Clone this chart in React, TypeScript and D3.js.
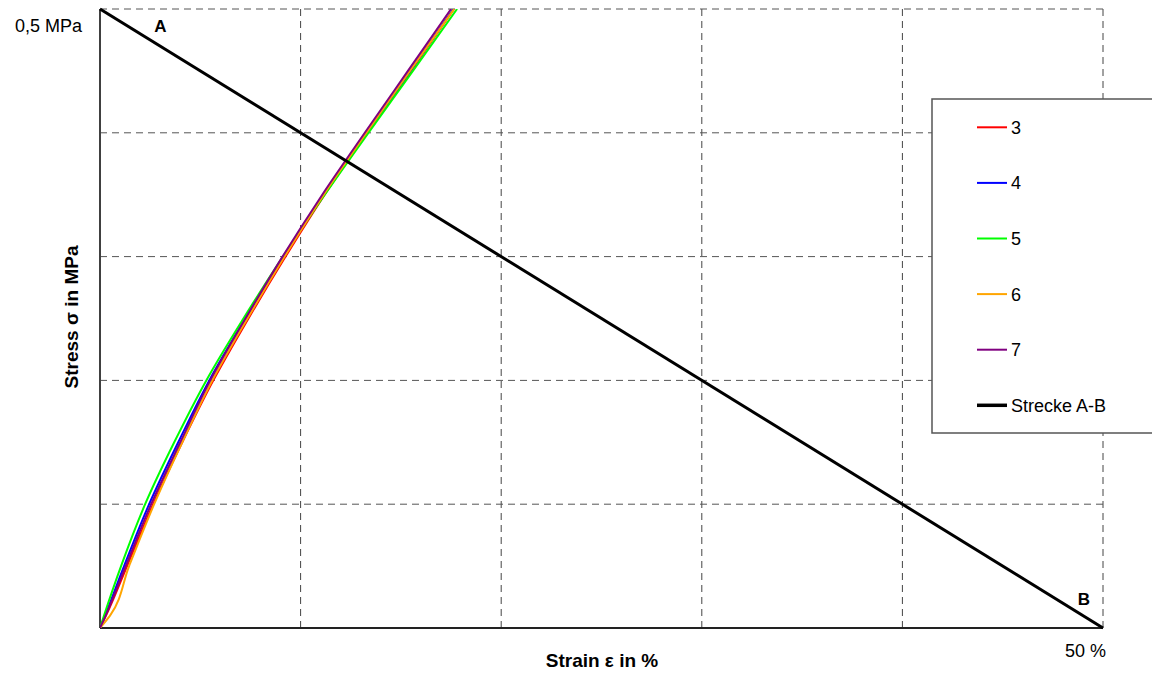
import React from "react";
import * as d3 from "d3";

// Stress levels (MPa) at which the strain of each specimen was sampled
const stressLevels = [0, 0.01, 0.05, 0.1, 0.15, 0.2, 0.25, 0.3, 0.35, 0.4, 0.45, 0.5];

// Strain (%) per specimen at the stress levels above
const strain3 = [0, 0.3, 1.35, 2.65, 4.1, 5.65, 7.4, 9.25, 11.2, 13.32, 15.5, 17.65];
const strain4 = [0, 0.25, 1.2, 2.45, 3.9, 5.45, 7.25, 9.15, 11.15, 13.3, 15.47, 17.62];
const strain5 = [0, 0.2, 1.05, 2.25, 3.7, 5.3, 7.15, 9.12, 11.2, 13.38, 15.6, 17.8];
const strain6 = [0, 0.5, 1.45, 2.7, 4.1, 5.6, 7.35, 9.2, 11.15, 13.28, 15.45, 17.65];
const strain7 = [0, 0.28, 1.28, 2.55, 4.0, 5.5, 7.25, 9.1, 11.08, 13.2, 15.35, 17.5];

const seriesNames = ["3", "4", "5", "6", "7"];
const seriesStrains = [strain3, strain4, strain5, strain6, strain7];
const seriesColors = ["#ff0000", "#0000ff", "#00ff00", "#ffa500", "#800080"];

// Straight line A-B (strain %, stress MPa)
const lineABStrain = [0, 50];
const lineABStress = [0.5, 0];

const xGrid = [10, 20, 30, 40, 50];
const yGrid = [0.1, 0.2, 0.3, 0.4, 0.5];

const W = 1152;
const H = 673;
const left = 100;
const right = 1103;
const top = 9;
const bottom = 628;

const font = "'Liberation Sans', Arial, sans-serif";

export default function App() {
  const x = d3.scaleLinear().domain([0, 50]).range([left, right]);
  const y = d3.scaleLinear().domain([0, 0.5]).range([bottom, top]);

  const curve = d3
    .line<[number, number]>()
    .x((d) => x(d[0]))
    .y((d) => y(d[1]))
    .curve(d3.curveMonotoneY);

  const straight = d3
    .line<[number, number]>()
    .x((d) => x(d[0]))
    .y((d) => y(d[1]));

  const abPts: [number, number][] = lineABStrain.map((s, i) => [s, lineABStress[i]]);

  const legendTop = 99;
  const legendStep = 55.6;
  const legendFirst = 127.3;

  return (
    <svg
      width={W}
      height={H}
      style={{ position: "absolute", left: 0, top: 0, display: "block", background: "#fff" }}
    >
      <rect x={0} y={0} width={W} height={H} fill="#fff" />
      <defs>
        <clipPath id="plotClip">
          <rect x={left} y={top} width={right - left} height={bottom - top} />
        </clipPath>
      </defs>

      {/* grid */}
      {xGrid.map((v) => (
        <line
          key={"gx" + v}
          x1={x(v)}
          x2={x(v)}
          y1={top}
          y2={bottom}
          stroke="#444"
          strokeWidth={1}
          strokeDasharray="7,5"
        />
      ))}
      {yGrid.map((v) => (
        <line
          key={"gy" + v}
          x1={left}
          x2={right}
          y1={y(v)}
          y2={y(v)}
          stroke="#555"
          strokeWidth={1}
          strokeDasharray="7,5"
        />
      ))}

      {/* axes */}
      <line x1={left} x2={left} y1={top} y2={bottom} stroke="#404040" strokeWidth={2} />
      <line x1={left} x2={right} y1={bottom} y2={bottom} stroke="#222" strokeWidth={2} />

      {/* specimen curves */}
      <g clipPath="url(#plotClip)">
        {seriesStrains.map((arr, i) => (
          <path
            key={seriesNames[i]}
            d={curve(arr.map((s, j) => [s, stressLevels[j]] as [number, number])) || ""}
            fill="none"
            stroke={seriesColors[i]}
            strokeWidth={2}
          />
        ))}
      </g>

      {/* line A-B */}
      <path d={straight(abPts) || ""} fill="none" stroke="#000" strokeWidth={3} />

      <text x={160.5} y={32} fontFamily={font} fontSize={17} fontWeight="bold" textAnchor="middle">
        A
      </text>
      <text x={1084} y={605} fontFamily={font} fontSize={17} fontWeight="bold" textAnchor="middle">
        B
      </text>

      {/* axis labels */}
      <text x={82} y={32} fontFamily={font} fontSize={18} textAnchor="end">
        0,5 MPa
      </text>
      <text x={1106} y={657} fontFamily={font} fontSize={18} textAnchor="end">
        50 %
      </text>
      <text x={602} y={667} fontFamily={font} fontSize={19} fontWeight="bold" textAnchor="middle">
        Strain ε in %
      </text>
      <text
        transform={`translate(78,317) rotate(-90)`}
        fontFamily={font}
        fontSize={19}
        fontWeight="bold"
        textAnchor="middle"
      >
        Stress σ in MPa
      </text>

      {/* legend */}
      <rect
        x={932}
        y={legendTop}
        width={240}
        height={334}
        fill="#fff"
        stroke="#555"
        strokeWidth={1.5}
      />
      {[...seriesNames, "Strecke A-B"].map((name, i) => {
        const cy = legendFirst + i * legendStep;
        const isAB = i === seriesNames.length;
        return (
          <g key={"lg" + name}>
            <line
              x1={977}
              x2={1007}
              y1={cy}
              y2={cy}
              stroke={isAB ? "#000" : seriesColors[i]}
              strokeWidth={isAB ? 3.5 : 2}
            />
            <text x={1011} y={cy + 6.5} fontFamily={font} fontSize={18}>
              {name}
            </text>
          </g>
        );
      })}
    </svg>
  );
}
